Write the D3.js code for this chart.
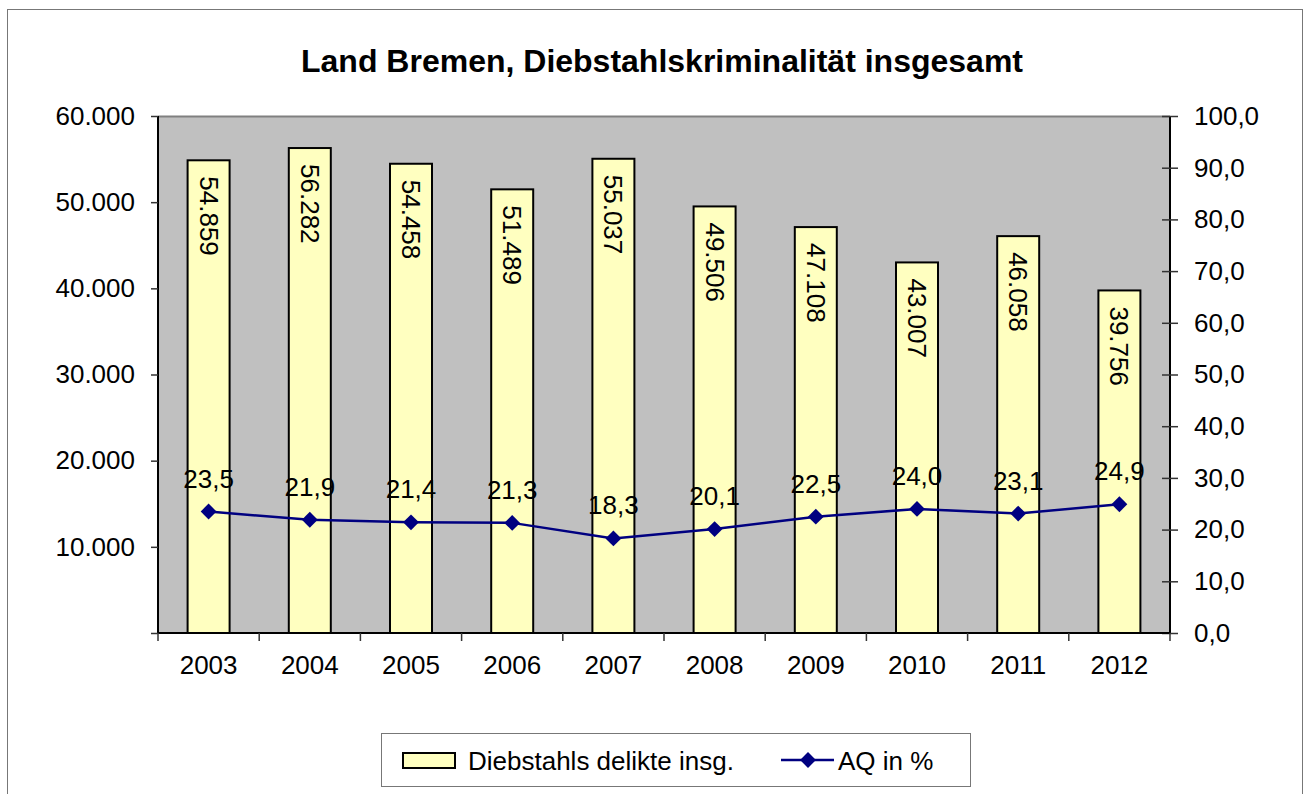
<!DOCTYPE html>
<html>
<head>
<meta charset="utf-8">
<script src="https://cdn.jsdelivr.net/npm/d3@7"></script>
<style>
  body { margin: 0; background: #fff; }
  svg text { font-family: "Liberation Sans", Arial, sans-serif; fill: #000; }
</style>
</head>
<body>
<div id="container"></div>
<script>
// chart values
const years = ['2003', '2004', '2005', '2006', '2007', '2008', '2009', '2010', '2011', '2012'];
const delikte = [54859, 56282, 54458, 51489, 55037, 49506, 47108, 43007, 46058, 39756];
const aq = [23.5, 21.9, 21.4, 21.3, 18.3, 20.1, 22.5, 24.0, 23.1, 24.9];
const leftTicks = [0, 10000, 20000, 30000, 40000, 50000, 60000];
const rightTicks = [0, 10, 20, 30, 40, 50, 60, 70, 80, 90, 100];

const title = 'Land Bremen, Diebstahlskriminalität insgesamt';
const legendBars = 'Diebstahls delikte insg.';
const legendLine = 'AQ in %';

const de = d3.formatLocale({ decimal: ',', thousands: '.', grouping: [3], currency: ['', ' €'] });
const fmtInt = de.format(',.0f');
const fmtDec = de.format(',.1f');

const W = 1304, H = 794;
const plot = { left: 158, right: 1170, top: 116, bottom: 633 };

let viz = d3.select('#container')
    .append('svg')
    .attr('width', W)
    .attr('height', H);

// outer frame
viz.append('rect')
    .attr('x', 7.5).attr('y', 9.5)
    .attr('width', 1295).attr('height', 800)
    .attr('fill', 'white')
    .attr('stroke', '#777')
    .attr('stroke-width', 1);

viz.append('text')
    .attr('x', 662).attr('y', 72)
    .attr('text-anchor', 'middle')
    .attr('font-size', 32)
    .attr('font-weight', 'bold')
    .text(title);

let x = d3.scaleBand()
    .domain(years)
    .range([plot.left, plot.right])
    .paddingInner(0.585)
    .paddingOuter(0.2925);

let yLeft = d3.scaleLinear().domain([0, 60000]).range([plot.bottom, plot.top]);
let yRight = d3.scaleLinear().domain([0, 100]).range([plot.bottom, plot.top]);

// plot background
viz.append('rect')
    .attr('x', plot.left).attr('y', plot.top)
    .attr('width', plot.right - plot.left).attr('height', plot.bottom - plot.top)
    .attr('fill', '#c0c0c0');
viz.append('line')
    .attr('x1', plot.left).attr('x2', plot.right)
    .attr('y1', plot.top + 0.5).attr('y2', plot.top + 0.5)
    .attr('stroke', '#808080').attr('stroke-width', 2);

// bars
let bars = viz.selectAll('.bar').data(delikte).enter()
    .append('g')
    .attr('class', 'bar');

bars.append('rect')
    .attr('x', (d, i) => x(years[i]))
    .attr('y', d => yLeft(d))
    .attr('width', x.bandwidth())
    .attr('height', d => yLeft(0) - yLeft(d))
    .attr('fill', '#ffffc0')
    .attr('stroke', 'black')
    .attr('stroke-width', 2);

bars.append('text')
    .attr('transform', (d, i) => 'translate(' + (x(years[i]) + x.bandwidth() / 2) + ',' + (yLeft(d) + 16) + ') rotate(90)')
    .attr('dominant-baseline', 'central')
    .attr('font-size', 26)
    .text(d => fmtInt(d));

// axes
let leftAxis = d3.axisLeft(yLeft).tickValues(leftTicks).tickSize(7).tickPadding(16)
    .tickFormat(d => d === 0 ? '' : fmtInt(d));
let gl = viz.append('g').attr('transform', 'translate(' + plot.left + ',0)').call(leftAxis);

let rightAxis = d3.axisRight(yRight).tickValues(rightTicks).tickSize(8).tickPadding(16).tickFormat(fmtDec);
let gr = viz.append('g').attr('transform', 'translate(' + plot.right + ',0)').call(rightAxis);
gr.selectAll('.tick line').attr('x1', -8);

let bottomAxis = d3.axisBottom(x).tickSize(0).tickPadding(32);
let gb = viz.append('g').attr('transform', 'translate(0,' + plot.bottom + ')').call(bottomAxis);

[gl, gr, gb].forEach(g => {
    g.select('.domain').attr('stroke', 'black').attr('stroke-width', 2);
    g.selectAll('.tick line').attr('stroke', '#333').attr('stroke-width', 1.5);
    g.selectAll('text').attr('font-size', 26).attr('font-family', '"Liberation Sans", Arial, sans-serif').attr('fill', 'black');
});
gl.select('.domain').attr('d', 'M0,' + plot.top + 'V' + plot.bottom);
gr.select('.domain').attr('d', 'M0,' + plot.top + 'V' + plot.bottom);
gb.select('.domain').attr('d', 'M' + plot.left + ',0H' + plot.right);
gb.selectAll('.tick text').attr('dy', '0.35em');

// category separators on x axis
let step = x.step();
let bounds = d3.range(years.length + 1).map(i => plot.left + i * step);
viz.selectAll('.xtick').data(bounds).enter()
    .append('line')
    .attr('x1', d => d).attr('x2', d => d)
    .attr('y1', plot.bottom).attr('y2', plot.bottom + 8)
    .attr('stroke', '#333').attr('stroke-width', 1.5);

// AQ line
let cx = (d, i) => x(years[i]) + x.bandwidth() / 2;
let line = d3.line()
    .x((d, i) => cx(d, i))
    .y(d => yRight(d));

viz.append('path')
    .datum(aq)
    .attr('d', line)
    .attr('fill', 'none')
    .attr('stroke', '#000080')
    .attr('stroke-width', 2.5);

let diamond = d3.symbol().type(d3.symbolDiamond2).size(160);
viz.selectAll('.marker').data(aq).enter()
    .append('path')
    .attr('d', diamond)
    .attr('transform', (d, i) => 'translate(' + cx(d, i) + ',' + yRight(d) + ')')
    .attr('fill', '#000080');

viz.selectAll('.aqlabel').data(aq).enter()
    .append('text')
    .attr('x', (d, i) => cx(d, i))
    .attr('y', d => yRight(d) - 24)
    .attr('text-anchor', 'middle')
    .attr('font-size', 26)
    .text(d => fmtDec(d));

// legend
let legend = viz.append('g');
legend.append('rect')
    .attr('x', 381.5).attr('y', 733.5)
    .attr('width', 589).attr('height', 53)
    .attr('fill', 'white')
    .attr('stroke', '#777');
legend.append('rect')
    .attr('x', 403).attr('y', 753)
    .attr('width', 52).attr('height', 15)
    .attr('fill', '#ffffc0')
    .attr('stroke', 'black')
    .attr('stroke-width', 2);
legend.append('text')
    .attr('x', 468).attr('y', 770)
    .attr('font-size', 26)
    .text(legendBars);
legend.append('line')
    .attr('x1', 781).attr('x2', 834)
    .attr('y1', 760).attr('y2', 760)
    .attr('stroke', '#000080').attr('stroke-width', 2.5);
legend.append('path')
    .attr('d', diamond)
    .attr('transform', 'translate(808,760)')
    .attr('fill', '#000080');
legend.append('text')
    .attr('x', 838).attr('y', 770)
    .attr('font-size', 26)
    .text(legendLine);
</script>
</body>
</html>
